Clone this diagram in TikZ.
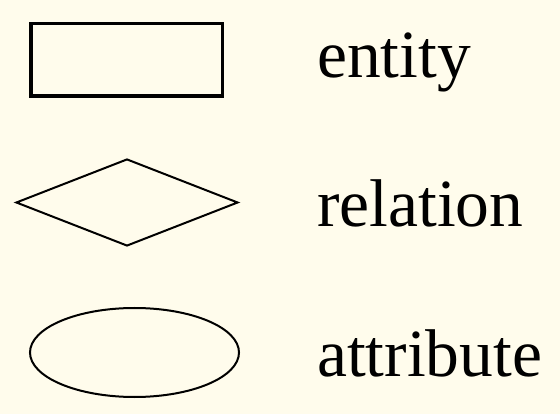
\documentclass[tikz,border=0pt]{standalone}
\usepackage{fontspec}
\setmainfont{Liberation Serif}
\usetikzlibrary{shapes}
\usetikzlibrary{positioning}
\definecolor{paper}{RGB}{255,252,236}
\tikzset{
  entitybox/.style = {draw, rectangle, line width=3.5pt, minimum width=191.5pt, minimum height=72.5pt, inner sep=0pt},
  relationbox/.style = {draw, diamond, line width=2pt, minimum width=222pt, minimum height=87pt, inner sep=0pt},
  attributebox/.style = {draw, ellipse, line width=2pt, minimum width=209pt, minimum height=89pt, inner sep=0pt},
  legendtext/.style = {anchor=base west, inner sep=0pt, font=\fontsize{67.5}{68}\selectfont}
}

\begin{document}
\begin{tikzpicture}[x=1pt,y=-1pt]
  \fill[paper] (0,0) rectangle (560,414);
  \useasboundingbox (0,0) rectangle (560,414);
  \node[entitybox] (entity) at (126.5,60) {};
  \node[relationbox] (relation) at (127,202.5) {};
  \node[attributebox] (attribute) at (134.5,352.5) {};
  \node[legendtext] (entitytext) at (317,78) {entity};
  \node[legendtext] (relationtext) at (317,227) {relation};
  \node[legendtext] (attributetext) at (317,376) {attribute};
\end{tikzpicture}
\end{document}
